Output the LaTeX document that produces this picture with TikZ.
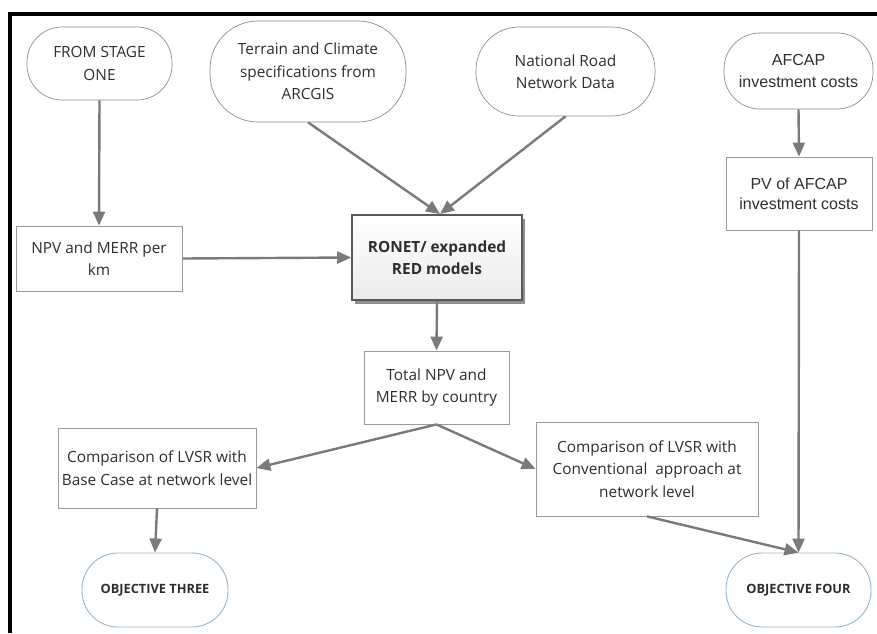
\documentclass[tikz,border=0pt]{standalone}
\usepackage{fontspec}
\setmainfont{Open Sans}
\newfontfamily\arialf{Liberation Sans}
\usetikzlibrary{arrows.meta,shadows}
\definecolor{linegray}{HTML}{7A7A7A}
\definecolor{boxgray}{HTML}{9A9A9A}
\definecolor{pillgray}{HTML}{8C8C8C}
\definecolor{objblue}{HTML}{93B6D2}
\definecolor{txt}{HTML}{2E2E2E}
\begin{document}
\begin{tikzpicture}[x=1pt,y=-1pt,
  every node/.style={font=\fontsize{15.4}{22.5}\selectfont, text=txt, align=center, inner sep=0pt},
  pill/.style={draw=pillgray, line width=0.7pt, rounded corners=#1},
  plainbox/.style={draw=boxgray, line width=0.8pt},
  mainbox/.style={draw=black!65, line width=1.8pt, top color=white, bottom color=black!8,
     drop shadow={shadow xshift=3pt, shadow yshift=-4pt, fill=black!55, opacity=0.8}},
  objpill/.style={draw=objblue, line width=0.9pt, rounded corners=36pt, font=\fontsize{12.8}{15}\selectfont\bfseries},
  conn/.style={draw=linegray, line width=2.4pt, -{Triangle[length=14pt,width=12pt]}}
]
\useasboundingbox (0,0) rectangle (877,633);
\fill[black] (8,12) rectangle (877,16);
\fill[black] (8,12) rectangle (12,633);

\node[pill=35pt, minimum width=145pt, minimum height=73pt] (stage) at (99.5,63.5) {FROM STAGE\\ONE};
\node[pill=48pt, minimum width=196pt, minimum height=101pt] (terrain) at (308,71.5) {Terrain and Climate\\specifications from\\ARCGIS};
\node[pill=43pt, minimum width=179pt, minimum height=89pt] (road) at (565.5,71.5) {National Road\\Network Data};
\node[pill=36pt, minimum width=149pt, minimum height=76pt, font=\arialf\fontsize{16}{22}\selectfont] (afcap) at (798.5,71) {AFCAP\\investment costs};
\node[plainbox, minimum width=146pt, minimum height=73pt, font=\arialf\fontsize{16}{20}\selectfont] (pv) at (799,193.5) {PV of AFCAP\\investment costs};
\node[plainbox, minimum width=166pt, minimum height=65pt] (npvkm) at (99,258.5) {NPV and MERR per\\km};
\node[mainbox, minimum width=170pt, minimum height=85pt, font=\fontsize{15.4}{22.5}\selectfont\bfseries] (ronet) at (437,257.5) {RONET/ expanded\\RED models};
\node[plainbox, minimum width=145pt, minimum height=73pt] (total) at (436.5,387.5) {Total NPV and\\MERR by country};
\node[plainbox, minimum width=198pt, minimum height=80pt] (base) at (157,468) {Comparison of LVSR with\\Base Case at network level};
\node[plainbox, minimum width=222pt, minimum height=94pt] (conv) at (647,469) {Comparison of LVSR with\\Conventional\ \ approach at\\network level};
\node[objpill, minimum width=146pt, minimum height=74pt] (obj3) at (155,590) {OBJECTIVE THREE};
\node[objpill, minimum width=145pt, minimum height=74pt] (obj4) at (798.5,590) {OBJECTIVE FOUR};

\draw[conn] (stage.south) -- (npvkm.north);
\draw[conn] (terrain.south) -- ([xshift=3pt]ronet.north);
\draw[conn] (road.south) -- ([xshift=3pt]ronet.north);
\draw[conn] (npvkm.east) -- (ronet.west);
\draw[conn] (ronet.south) -- (total.north);
\draw[conn] (total.south) -- (base.east);
\draw[conn] (total.south) -- (conv.west);
\draw[conn] (base.south) -- (obj3.north);
\draw[conn] (conv.south) -- (obj4.north);
\draw[conn] (afcap.south) -- (pv.north);
\draw[conn] (pv.south) -- (obj4.north);
\end{tikzpicture}
\end{document}
